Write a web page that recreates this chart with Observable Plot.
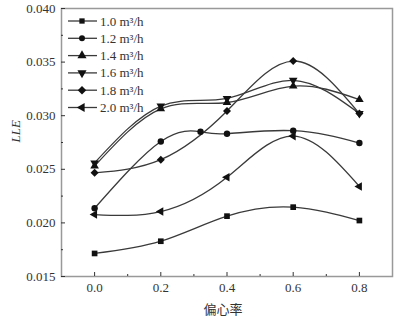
<!DOCTYPE html>
<html><head><meta charset="utf-8">
<script src="https://cdn.jsdelivr.net/npm/d3@7"></script>
<script src="https://cdn.jsdelivr.net/npm/@observablehq/plot@0.6"></script>
<style>body{margin:0;background:#fff}</style>
</head><body><div id="chart"></div>
<script>
// ---- data ----
const eccentricity = [0.0, 0.2, 0.4, 0.6, 0.8];
const eccentricity12 = [0.0, 0.2, 0.32, 0.4, 0.6, 0.8];
const flowRates = ["1.0 m³/h", "1.2 m³/h", "1.4 m³/h", "1.6 m³/h", "1.8 m³/h", "2.0 m³/h"];
const lle10 = [0.01715, 0.01829, 0.02063, 0.02147, 0.02022];
const lle12 = [0.02137, 0.0276, 0.0285, 0.02832, 0.0286, 0.02745];
const lle14 = [0.0253, 0.03064, 0.03123, 0.03276, 0.0315];
const lle16 = [0.0256, 0.0309, 0.03161, 0.0333, 0.0302];
const lle18 = [0.02467, 0.0259, 0.03044, 0.0351, 0.0302];
const lle20 = [0.02078, 0.02106, 0.02426, 0.0281, 0.0234];
const xTicks = [0.0, 0.2, 0.4, 0.6, 0.8];
const xMinor = [0.1, 0.3, 0.5, 0.7];
const yTicks = [0.015, 0.020, 0.025, 0.030, 0.035, 0.040];
const yMinor = [0.0175, 0.0225, 0.0275, 0.0325, 0.0375];

// ---- custom symbols ----
const sqrt3 = Math.sqrt(3);
const triangleDown = {draw(c, size) {
  const y = -Math.sqrt(size / (sqrt3 * 3));
  c.moveTo(0, -y * 2); c.lineTo(-sqrt3 * y, y); c.lineTo(sqrt3 * y, y); c.closePath();
}};
const triangleLeft = {draw(c, size) {
  const y = -Math.sqrt(size / (sqrt3 * 3));
  c.moveTo(y * 2, 0); c.lineTo(-y, -sqrt3 * y); c.lineTo(-y, sqrt3 * y); c.closePath();
}};
const diamondSq = {draw(c, size) {
  const r = Math.sqrt(size / 2);
  c.moveTo(0, -r); c.lineTo(r, 0); c.lineTo(0, r); c.lineTo(-r, 0); c.closePath();
}};
const symbols = [d3.symbolSquare, d3.symbolCircle, d3.symbolTriangle, triangleDown, diamondSq, triangleLeft];
const symbolSizes = [28, 28, 36, 36, 36, 36];

const seriesList = [
  [eccentricity, lle10], [eccentricity12, lle12], [eccentricity, lle14],
  [eccentricity, lle16], [eccentricity, lle18], [eccentricity, lle20]
];
const rows = [];
seriesList.forEach(([xs, ys], i) => xs.forEach((x, j) => rows.push({series: flowRates[i], x, y: ys[j]})));

const serif = "'Liberation Serif', 'Times New Roman', serif";
const ink = "#333";

const plot = Plot.plot({
  width: 397, height: 322,
  marginLeft: 61, marginRight: 5, marginTop: 8, marginBottom: 46,
  style: {fontFamily: serif, fontSize: "13px", color: ink, background: "#fff"},
  x: {domain: [-0.1, 0.9]},
  y: {domain: [0.015, 0.040]},
  symbol: {domain: flowRates, range: symbols},
  marks: [
    Plot.frame({stroke: "#999", strokeWidth: 1.5}),
    Plot.axisX(xTicks, {tickSize: -4, tickFormat: () => "", stroke: ink, label: null}),
    Plot.axisX(xMinor, {tickSize: -2, tickFormat: () => "", stroke: ink, label: null}),
    Plot.axisX(xTicks, {tickSize: 0, tickPadding: 6, tickFormat: d3.format(".1f"), fill: ink, label: null, fontFamily: serif, fontSize: 13}),
    Plot.axisY(yTicks, {tickSize: -4, tickFormat: () => "", stroke: ink, label: null}),
    Plot.axisY(yMinor, {tickSize: -2, tickFormat: () => "", stroke: ink, label: null}),
    Plot.axisY(yTicks, {tickSize: 0, tickPadding: 6, tickFormat: d3.format(".3f"), fill: ink, label: null, fontFamily: serif, fontSize: 13}),
    Plot.line(rows, {x: "x", y: "y", z: "series", curve: "natural", stroke: "#3a3a3a", strokeWidth: 1.3}),
    Plot.dot(rows, {x: "x", y: "y", symbol: "series", r: 3.2, fill: "#111", stroke: "none"}),
    Plot.text(["LLE"], {frameAnchor: "left", rotate: -90, dx: -46, fontStyle: "italic", fontFamily: serif, fontSize: 13, fill: ink}),
    Plot.text(["偏心率"], {frameAnchor: "bottom", dy: 37, dx: -4, fontFamily: "Noto Sans CJK SC", fontSize: 13, fill: ink})
  ]
});

// ---- legend (inside top-left of the frame) ----
const svgSel = d3.select(plot);
const xScale = plot.scale("x"), yScale = plot.scale("y");
const legLeft = xScale.apply(-0.1), legTop = yScale.apply(0.040);
const leg = svgSel.append("g").attr("transform", `translate(${legLeft},${legTop})`);
flowRates.forEach((label, i) => {
  const cy = 13 + i * 17.3;
  leg.append("line").attr("x1", 7).attr("x2", 36).attr("y1", cy).attr("y2", cy)
    .attr("stroke", "#3a3a3a").attr("stroke-width", 1.3);
  leg.append("path").attr("transform", `translate(21,${cy})`)
    .attr("d", d3.symbol(symbols[i], symbolSizes[i])()).attr("fill", "#111");
  leg.append("text").attr("x", 39).attr("y", cy).attr("dy", "0.35em")
    .attr("text-anchor", "start")
    .attr("font-family", serif).attr("font-size", 13).attr("fill", ink).text(label);
});

document.getElementById("chart").appendChild(plot);
</script>
</body></html>
